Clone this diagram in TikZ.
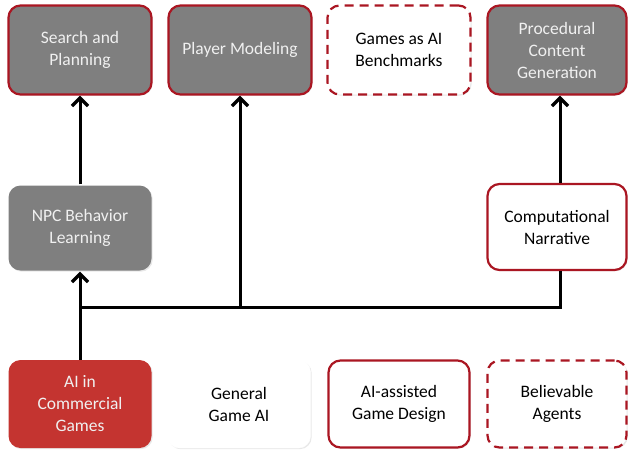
\documentclass[tikz,border=0pt]{standalone}
\usepackage{fontspec}
\setmainfont{Carlito}
\usetikzlibrary{arrows.meta,shadows}

\definecolor{boxgray}{RGB}{127,127,127}
\definecolor{boxred}{RGB}{170,22,34}
\definecolor{fillred}{RGB}{196,52,48}
\definecolor{textlight}{RGB}{240,240,240}

\begin{document}
\begin{tikzpicture}[x=1pt, y=-1pt,
    area/.style={rounded corners=12pt, minimum width=143pt, minimum height=89pt,
        align=center, font=\fontsize{17.5}{22}\selectfont, inner sep=2pt,
        drop shadow={opacity=0.18, shadow xshift=1.2pt, shadow yshift=-1.2pt}},
    grayarea/.style={area, fill=boxgray, draw=boxred, line width=2.2pt, text=textlight},
    redline/.style={area, fill=white, draw=boxred, line width=2.2pt},
    reddash/.style={area, fill=white, draw=boxred, line width=2.2pt, dash pattern=on 9pt off 6pt},
    plain/.style={area, fill=white, draw=white},
    link/.style={line width=3pt, black},
    arr/.style={link, -{Straight Barb[length=8pt, width=16pt, line width=3.4pt]}}]

    % frame of the picture
    \useasboundingbox (0,0) rectangle (629,451);

    % top row
    \node[grayarea] (search) at (80,50) {Search and\\Planning};
    \node[grayarea] (player) at (240,50) {Player Modeling};
    \node[reddash] (bench) at (399,50) {Games as AI\\Benchmarks};
    \node[grayarea, minimum width=139pt] (pcg) at (557,50) {Procedural\\Content\\Generation};

    % middle row
    \node[grayarea, draw=none, minimum height=85pt] (npc) at (80,228) {NPC Behavior\\Learning};
    \node[redline, minimum width=139pt, minimum height=86pt] (narr) at (557,227) {Computational\\Narrative};

    % bottom row
    \node[area, fill=fillred, text=textlight, minimum height=88pt] (comm) at (80,404) {AI in\\Commercial\\Games};
    \node[plain, minimum height=88pt] (general) at (239,404) {General\\Game AI};
    \node[redline, minimum width=141pt, minimum height=87pt] (design) at (399,404) {AI-assisted\\Game Design};
    \node[reddash, minimum width=139pt, minimum height=87pt] (agents) at (557,404) {Believable\\Agents};

    % connectors
    \coordinate (hub) at (80,307);
    \draw[arr] (comm.north) -- (npc.south);
    \draw[link] (hub) -| ([xshift=3pt]narr.south);
    \draw[arr] (hub -| player.south) -- (player.south);
    \draw[arr] (npc.north) -- (search.south);
    \draw[arr] ([xshift=3pt]narr.north) -- ([xshift=3pt]pcg.south);
\end{tikzpicture}
\end{document}
